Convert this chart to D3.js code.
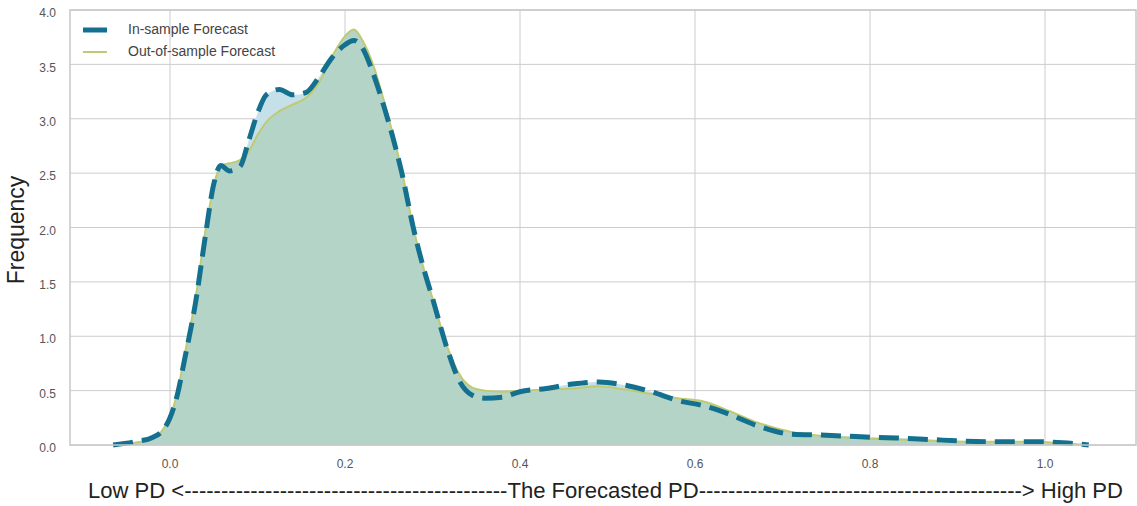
<!DOCTYPE html>
<html>
<head>
<meta charset="utf-8">
<script src="https://cdn.jsdelivr.net/npm/d3@7"></script>
<style>
  body { margin: 0; background: #fff; }
  svg { display: block; font-family: "Liberation Sans", Arial, sans-serif; }
</style>
</head>
<body>
<svg id="chart" width="1137" height="506"></svg>
<script>
// Forecasted PD grid and KDE values
const pdGrid = [-0.065, -0.04, -0.02, -0.01, 0.0, 0.008, 0.017, 0.029, 0.04, 0.05, 0.058, 0.068, 0.08, 0.09, 0.1, 0.11, 0.125, 0.14, 0.155, 0.17, 0.185, 0.2, 0.21, 0.22, 0.232, 0.245, 0.255, 0.265, 0.278, 0.29, 0.3, 0.317, 0.33, 0.345, 0.36, 0.38, 0.4, 0.43, 0.46, 0.49, 0.52, 0.55, 0.58, 0.61, 0.64, 0.67, 0.71, 0.75, 0.79, 0.83, 0.87, 0.91, 0.95, 0.99, 1.02, 1.05];
const inSample = [0.0, 0.03, 0.07, 0.12, 0.25, 0.45, 0.8, 1.3, 1.9, 2.4, 2.57, 2.52, 2.56, 2.8, 3.05, 3.22, 3.27, 3.22, 3.24, 3.38, 3.56, 3.68, 3.72, 3.65, 3.42, 3.1, 2.82, 2.5, 2.0, 1.62, 1.35, 0.88, 0.6, 0.46, 0.43, 0.44, 0.49, 0.52, 0.56, 0.58, 0.55, 0.49, 0.41, 0.36, 0.28, 0.18, 0.1, 0.09, 0.075, 0.065, 0.05, 0.035, 0.03, 0.03, 0.02, 0.0];
const outSample = [0.0, 0.02, 0.06, 0.12, 0.26, 0.47, 0.84, 1.34, 1.95, 2.38, 2.57, 2.59, 2.62, 2.7, 2.85, 2.97, 3.07, 3.13, 3.19, 3.33, 3.57, 3.76, 3.82, 3.72, 3.5, 3.15, 2.85, 2.52, 2.0, 1.62, 1.35, 0.9, 0.66, 0.53, 0.5, 0.49, 0.5, 0.51, 0.52, 0.54, 0.51, 0.47, 0.43, 0.4, 0.31, 0.21, 0.12, 0.08, 0.06, 0.05, 0.04, 0.03, 0.03, 0.03, 0.015, 0.0];
const xTicks = [0.0, 0.2, 0.4, 0.6, 0.8, 1.0];
const yTicks = [0.0, 0.5, 1.0, 1.5, 2.0, 2.5, 3.0, 3.5, 4.0];
const seriesNames = ["In-sample Forecast", "Out-of-sample Forecast"];
const xLabel = "Low PD <" + "-".repeat(44) + "The Forecasted PD" + "-".repeat(44) + "> High PD";

const svg = d3.select("#chart");
const margin = {left: 70, top: 10, right: 1136, bottom: 445};

const x = d3.scaleLinear().domain([-0.1143, 1.104]).range([margin.left, margin.right]);
const y = d3.scaleLinear().domain([0, 4.0]).range([margin.bottom, margin.top]);

// grid
svg.append("g").selectAll("line").data(yTicks).join("line")
    .attr("x1", margin.left).attr("x2", margin.right)
    .attr("y1", d => y(d)).attr("y2", d => y(d))
    .attr("stroke", "#cccccc").attr("stroke-width", 1);
svg.append("g").selectAll("line").data(xTicks).join("line")
    .attr("x1", d => x(d)).attr("x2", d => x(d))
    .attr("y1", margin.top).attr("y2", margin.bottom)
    .attr("stroke", "#cccccc").attr("stroke-width", 1);

const pts = arr => pdGrid.map((p, i) => [p, arr[i]]);

const area = d3.area().curve(d3.curveMonotoneX)
    .x(d => x(d[0])).y0(y(0)).y1(d => y(d[1]));
const line = d3.line().curve(d3.curveMonotoneX)
    .x(d => x(d[0])).y(d => y(d[1]));

// shaded areas
svg.append("path").datum(pts(inSample)).attr("d", area).attr("fill", "#c6e0ea");
svg.append("path").datum(pts(outSample)).attr("d", area).attr("fill", "#b5d4c8");

// lines
svg.append("path").datum(pts(outSample)).attr("d", line)
    .attr("fill", "none").attr("stroke", "#bfca74").attr("stroke-width", 2);
svg.append("path").datum(pts(inSample)).attr("d", line)
    .attr("fill", "none").attr("stroke", "#14708f").attr("stroke-width", 5)
    .attr("stroke-dasharray", "20,9");

// frame
svg.append("rect")
    .attr("x", margin.left).attr("y", margin.top)
    .attr("width", margin.right - margin.left).attr("height", margin.bottom - margin.top)
    .attr("fill", "none").attr("stroke", "#c8c8c8").attr("stroke-width", 1.5);

// tick labels
svg.append("g").selectAll("text").data(yTicks).join("text")
    .attr("x", 56).attr("y", d => y(d) + 4)
    .attr("text-anchor", "end").attr("dominant-baseline", "middle")
    .attr("font-size", 12).attr("fill", "#555")
    .text(d => d.toFixed(1));
svg.append("g").selectAll("text").data(xTicks).join("text")
    .attr("x", d => x(d)).attr("y", 465)
    .attr("text-anchor", "middle").attr("dominant-baseline", "middle")
    .attr("font-size", 12).attr("fill", "#555")
    .text(d => d.toFixed(1));

// axis labels
svg.append("text")
    .attr("transform", "translate(24,230) rotate(-90)")
    .attr("text-anchor", "middle")
    .attr("font-size", 23).attr("fill", "#222")
    .text("Frequency");
svg.append("text")
    .attr("x", 88).attr("y", 498)
    .attr("font-size", 22).attr("fill", "#222")
    .attr("textLength", 1035).attr("lengthAdjust", "spacingAndGlyphs")
    .text(xLabel);

// legend
const legend = svg.append("g");
legend.append("line").attr("x1", 83).attr("x2", 107).attr("y1", 30).attr("y2", 30)
    .attr("stroke", "#14708f").attr("stroke-width", 5);
legend.append("line").attr("x1", 83).attr("x2", 107).attr("y1", 52).attr("y2", 52)
    .attr("stroke", "#bfca74").attr("stroke-width", 2);
legend.selectAll("text").data(seriesNames).join("text")
    .attr("x", 128).attr("y", (d, i) => 30 + i * 22)
    .attr("dominant-baseline", "middle")
    .attr("font-size", 14).attr("fill", "#444")
    .text(d => d);
</script>
</body>
</html>
